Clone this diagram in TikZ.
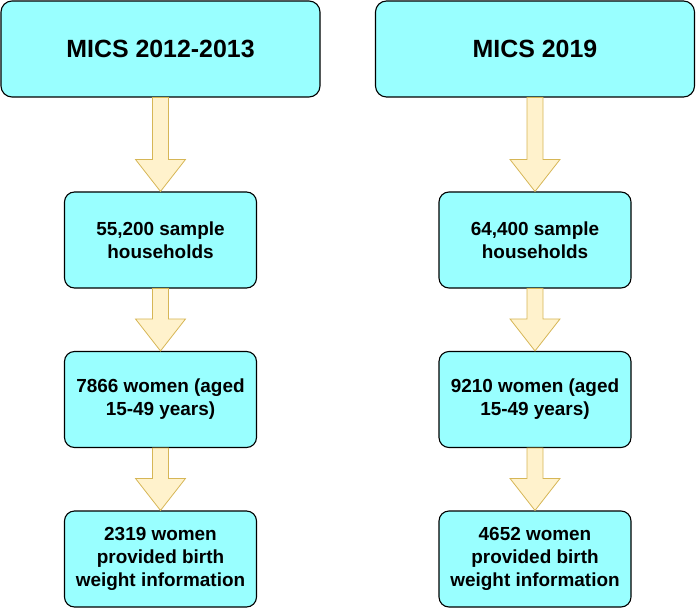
\documentclass[tikz,border=0pt]{standalone}
\usepackage{fontspec}
\setmainfont{Liberation Sans}
\usepackage{tikz}
\usetikzlibrary{calc}

\definecolor{boxcyan}{HTML}{99FFFF}
\definecolor{arrowfill}{HTML}{FFF2CC}
\definecolor{arrowline}{HTML}{D6B656}

\tikzset{
  bigbox/.style={draw=black, line width=1.1pt, fill=boxcyan, rounded corners=11bp,
    minimum width=319bp, minimum height=96bp, inner sep=0pt,
    font=\bfseries\fontsize{25}{30}\selectfont},
  smallbox/.style={draw=black, line width=1.1pt, fill=boxcyan, rounded corners=10bp,
    minimum width=192bp, minimum height=96bp, inner sep=0pt, align=center,
    font=\bfseries\fontsize{19}{23}\selectfont},
  blockarrow/.style={draw=arrowline, fill=arrowfill, line width=0.8pt}
}

% block arrow from the bottom of #1 to the top of #2
\newcommand{\blockarrow}[2]{
  \draw[blockarrow] ($(#1.south)+(-8,0)$) -- ($(#2.north)+(-8,-32)$)
    -- ($(#2.north)+(-25,-32)$) -- (#2.north) -- ($(#2.north)+(25,-32)$)
    -- ($(#2.north)+(8,-32)$) -- ($(#1.south)+(8,0)$) -- cycle;
}

\begin{document}
\begin{tikzpicture}[x=1bp, y=-1bp]
    \useasboundingbox (0,0) rectangle (696,608);

    \node[bigbox] (micsA) at (160.5,49) {MICS 2012-2013};
    \node[smallbox] (houseA) at (160.5,240) {55,200 sample\\households};
    \node[smallbox] (womenA) at (160.5,399.5) {7866 women (aged\\15-49 years)};
    \node[smallbox] (birthA) at (160.5,559) {2319 women\\provided birth\\weight information};

    \node[bigbox] (micsB) at (535,49) {MICS 2019};
    \node[smallbox] (houseB) at (535,240) {64,400 sample\\households};
    \node[smallbox] (womenB) at (535,399.5) {9210 women (aged\\15-49 years)};
    \node[smallbox] (birthB) at (535,559) {4652 women\\provided birth\\weight information};

    \blockarrow{micsA}{houseA}
    \blockarrow{houseA}{womenA}
    \blockarrow{womenA}{birthA}
    \blockarrow{micsB}{houseB}
    \blockarrow{houseB}{womenB}
    \blockarrow{womenB}{birthB}
\end{tikzpicture}
\end{document}
